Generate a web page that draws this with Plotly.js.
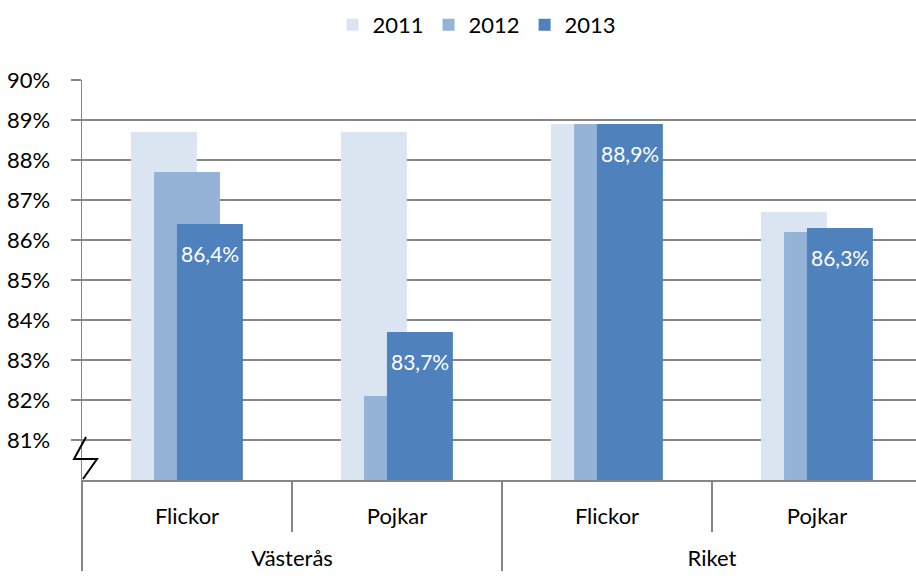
<html>
<head>
    <meta charset="utf-8">
    <script src="https://cdn.plot.ly/plotly-3.0.1.min.js"></script>
    <style>
        body { margin: 0; padding: 0; background: white; overflow: hidden; }
        #chart { width: 922px; height: 579px; }
    </style>
</head>
<body>
    <div id="chart"></div>
    <script>
        // area / gender and the three years
        const areas = ['Västerås', 'Västerås', 'Riket', 'Riket'];
        const groups = ['Flickor', 'Pojkar', 'Flickor', 'Pojkar'];
        const years = ['2011', '2012', '2013'];
        const values2011 = [88.7, 88.7, 88.9, 86.7];
        const values2012 = [87.7, 82.1, 88.9, 86.2];
        const values2013 = [86.4, 83.7, 88.9, 86.3];
        const yTicks = [81, 82, 83, 84, 85, 86, 87, 88, 89, 90];
        const colors = ['#dbe5f1', '#95b3d7', '#4f81bd'];

        const series = [values2011, values2012, values2013];
        const barWidth = 0.314;
        const offsets = [-0.267, -0.157, -0.048];
        const gridColor = '#868686';
        const font = 'Lato, "Open Sans", sans-serif';

        // extra blank line pushes the outer labels down like in Excel
        const outer = areas.map(a => '<br>' + a);

        const data = series.map((vals, i) => ({
            type: 'bar',
            name: years[i],
            x: [outer, groups],
            y: vals,
            width: barWidth,
            offset: offsets[i],
            marker: { color: colors[i] },
            hoverinfo: 'skip'
        }));

        // value labels of 2013, just under the bar top
        const labels = values2013.map((v, i) => ({
            xref: 'x',
            yref: 'y',
            x: i + offsets[2] + barWidth / 2,
            y: v,
            text: v.toFixed(1).replace('.', ',') + '%',
            showarrow: false,
            yanchor: 'top',
            yshift: -15,
            font: { color: 'white', size: 21, family: font }
        }));

        // axis break mark
        const px = v => (v - 82) / 840;
        const py = v => (480 - v) / 400;
        const breakPath = 'M ' + px(86) + ' ' + py(437) + ' L ' + px(74) + ' ' + py(459) +
            ' L ' + px(97) + ' ' + py(459) + ' L ' + px(83) + ' ' + py(479);

        const layout = {
            width: 922,
            height: 579,
            margin: { l: 82, r: 0, t: 80, b: 99 },
            barmode: 'overlay',
            font: { family: font, size: 22, color: '#000' },
            paper_bgcolor: 'white',
            plot_bgcolor: 'white',
            showlegend: true,
            legend: {
                orientation: 'h',
                x: (477 - 82) / 840,
                xanchor: 'center',
                y: (480 - 25) / 400,
                yanchor: 'middle',
                font: { size: 22 },
                itemwidth: 30
            },
            xaxis: {
                type: 'multicategory',
                showline: true,
                linecolor: gridColor,
                linewidth: 1.5,
                ticks: 'outside',
                tickson: 'boundaries',
                ticklen: 50,
                tickcolor: gridColor,
                tickwidth: 1.5,
                ticklabelstandoff: 16,
                showdividers: true,
                dividercolor: gridColor,
                dividerwidth: 1.5,
                tickfont: { size: 22 },
                showgrid: false
            },
            yaxis: {
                range: [80, 90],
                tickmode: 'array',
                tickvals: yTicks,
                ticktext: yTicks.map(t => t + '%'),
                showgrid: true,
                gridcolor: gridColor,
                gridwidth: 1.5,
                showline: true,
                linecolor: gridColor,
                linewidth: 1.5,
                ticks: 'outside',
                ticklen: 10,
                tickcolor: gridColor,
                tickwidth: 1.5,
                ticklabelstandoff: 16,
                tickfont: { size: 22 },
                zeroline: false
            },
            annotations: labels,
            shapes: [
                {
                    type: 'path',
                    xref: 'paper',
                    yref: 'paper',
                    path: breakPath,
                    line: { color: '#000', width: 2 }
                }
            ]
        };

        Plotly.newPlot('chart', data, layout, { displayModeBar: false, staticPlot: true });
    </script>
</body>
</html>
